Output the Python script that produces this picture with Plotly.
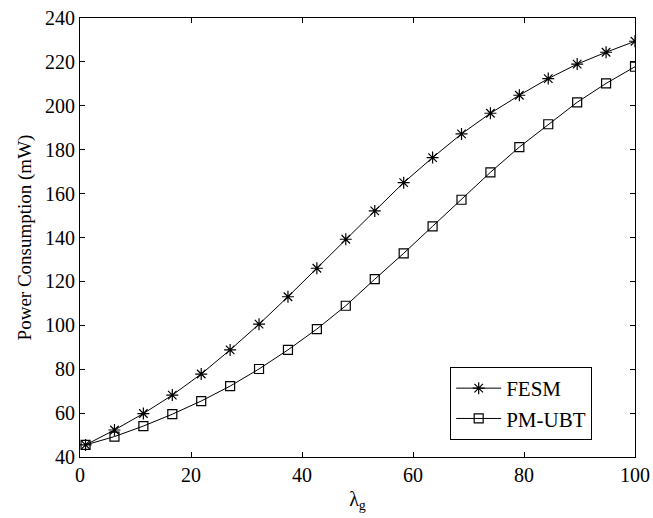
import plotly.graph_objects as go

lambda_g = [1.0, 6.21, 11.42, 16.63, 21.84, 27.05, 32.26, 37.47, 42.68, 47.89,
            53.11, 58.32, 63.53, 68.74, 73.95, 79.16, 84.37, 89.58, 94.79, 100.0]
fesm = [45.5, 52.3, 59.8, 68.2, 77.8, 88.8, 100.5, 113.0, 126.0, 139.2,
        152.1, 165.0, 176.4, 187.2, 196.6, 204.8, 212.4, 219.0, 224.4, 229.4]
pm_ubt = [45.5, 49.3, 54.1, 59.5, 65.5, 72.3, 80.1, 88.8, 98.3, 108.9,
          121.0, 132.8, 145.1, 157.2, 169.7, 181.2, 191.6, 201.6, 210.2, 217.8]

x_ticks = [0, 20, 40, 60, 80, 100]
y_ticks = [40, 60, 80, 100, 120, 140, 160, 180, 200, 220, 240]

FONT = "Liberation Serif"

fig = go.Figure()
fig.add_trace(go.Scatter(
    x=lambda_g, y=fesm, name="FESM", mode="lines+markers",
    line=dict(color="black", width=1),
    marker=dict(symbol="asterisk-open", size=10, color="black",
                line=dict(color="black", width=1.2)),
))
fig.add_trace(go.Scatter(
    x=lambda_g, y=pm_ubt, name="PM-UBT", mode="lines+markers",
    line=dict(color="black", width=1),
    marker=dict(symbol="square-open", size=9, color="black",
                line=dict(color="black", width=1.2)),
))

axis_common = dict(
    showgrid=False, zeroline=False, showline=True, linecolor="black",
    linewidth=1, mirror="ticks", ticks="inside", ticklen=5,
    tickcolor="black", tickwidth=1, automargin=False,
    tickfont=dict(family=FONT, size=20, color="black"),
)

fig.update_layout(
    width=653, height=518,
    margin=dict(l=80, r=18, t=18, b=61, autoexpand=False),
    paper_bgcolor="white", plot_bgcolor="white",
    font=dict(family=FONT, size=20, color="black"),
    xaxis=dict(range=[0, 100], tickvals=x_ticks,
               title=dict(text="λ<sub>g</sub>", standoff=6,
                          font=dict(family=FONT, size=20)),
               **axis_common),
    yaxis=dict(range=[40, 240], tickvals=y_ticks,
               title=dict(text="Power Consumption (mW)", standoff=8,
                          font=dict(family=FONT, size=19)),
               **axis_common),
    legend=dict(x=0.667, y=0.205, xanchor="left", yanchor="top",
                bordercolor="black", borderwidth=1, bgcolor="white",
                font=dict(family=FONT, size=21), itemwidth=45,
                tracegroupgap=0),
    showlegend=True,
)

fig.write_html("out.html")
